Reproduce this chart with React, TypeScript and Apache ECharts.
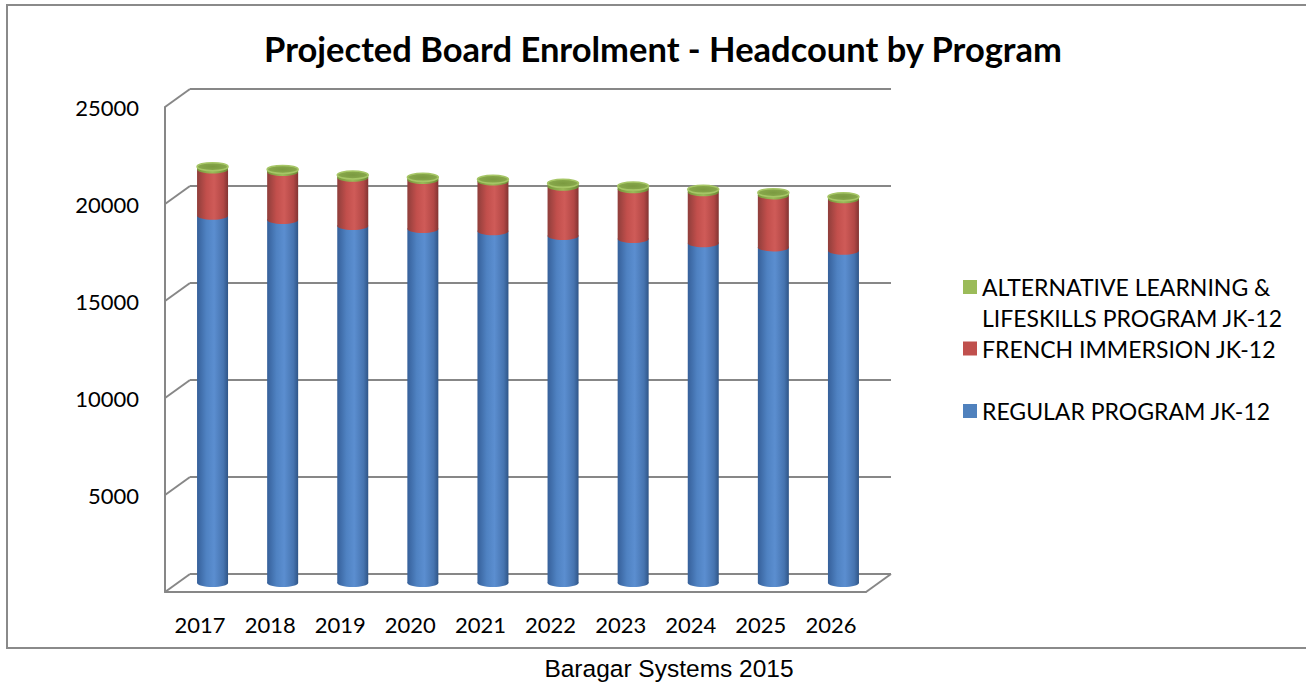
import React, { useEffect, useRef } from "react";
import * as echarts from "echarts";

const categories = ["2017", "2018", "2019", "2020", "2021", "2022", "2023", "2024", "2025", "2026"];
const regularProgram = [18930, 18710, 18400, 18250, 18130, 17890, 17730, 17510, 17300, 17130];
const frenchImmersion = [2380, 2480, 2490, 2520, 2560, 2540, 2560, 2630, 2680, 2650];
const alternativeLearning = [150, 130, 140, 140, 120, 170, 170, 150, 140, 130];
const yTicks = [0, 5000, 10000, 15000, 20000, 25000];

const NAME_ALT = "ALTERNATIVE LEARNING & LIFESKILLS PROGRAM JK-12";
const NAME_FR = "FRENCH IMMERSION JK-12";
const NAME_REG = "REGULAR PROGRAM JK-12";

// layout
const BACK = { left: 190, top: 89, width: 701, height: 485 };
const FRONT = { left: 165, top: 107, width: 701, height: 485 };
const MID = { left: 177.5, top: 98, width: 701, height: 485 };
const DX = FRONT.left - BACK.left;
const DY = FRONT.top - BACK.top;
const BAR_W = 31;
const RY = 4;
const GRID_COLOR = "#878787";
const FONT = "Lato, 'Open Sans', sans-serif";

function stackRows(values: number[], below: number[][]) {
  return values.map((v, i) => {
    const base = below.reduce((s, arr) => s + arr[i], 0);
    return [i, base, base + v];
  });
}

function cylinder(side: any[], top: any | null) {
  return (params: any, api: any) => {
    const i = api.value(0);
    const base = api.value(1);
    const topV = api.value(2);
    const pTop = api.coord([i, topV]);
    const pBase = api.coord([i, base]);
    const cx = pTop[0];
    const rx = BAR_W / 2;
    const grad = new echarts.graphic.LinearGradient(0, 0, 1, 0, side);
    const children: any[] = [
      { type: "ellipse", shape: { cx, cy: pBase[1], rx, ry: RY }, style: { fill: grad } },
      {
        type: "rect",
        shape: { x: cx - rx, y: pTop[1], width: BAR_W, height: pBase[1] - pTop[1] },
        style: { fill: grad },
      },
    ];
    if (top) {
      children.push({
        type: "ellipse",
        shape: { cx, cy: pTop[1], rx, ry: RY },
        style: { fill: top.fill, stroke: top.stroke, lineWidth: 1.5 },
      });
    }
    return { type: "group", children };
  };
}

export default function App() {
  const ref = useRef<HTMLDivElement>(null);
  useEffect(() => {
    document.body.style.margin = "0";
    const chart = echarts.init(ref.current!, null, { renderer: "svg" });

    const blueSide = [
      { offset: 0, color: "#36609a" },
      { offset: 0.3, color: "#4f82c2" },
      { offset: 0.55, color: "#5b8ed0" },
      { offset: 0.85, color: "#4674b0" },
      { offset: 1, color: "#2f5587" },
    ];
    const redSide = [
      { offset: 0, color: "#8f3e3b" },
      { offset: 0.3, color: "#c24f4c" },
      { offset: 0.55, color: "#cf5b58" },
      { offset: 0.85, color: "#b24745" },
      { offset: 1, color: "#823432" },
    ];
    const greenSide = [
      { offset: 0, color: "#779639" },
      { offset: 0.5, color: "#9bbb59" },
      { offset: 1, color: "#6c8a34" },
    ];

    const axisCommon = { min: 0, max: 25000, interval: 5000 };
    const legendText = { fontFamily: FONT, fontSize: 23, color: "#000", lineHeight: 31 };

    const option: any = {
      animation: false,
      backgroundColor: "#ffffff",
      title: {
        text: "Projected Board Enrolment - Headcount by Program",
        left: 658,
        textAlign: "center",
        top: 26,
        textStyle: { fontFamily: FONT, fontSize: 34.5, fontWeight: "bold", color: "#000" },
      },
      legend: [
        {
          data: [NAME_ALT],
          orient: "vertical",
          left: 963,
          top: 240.5,
          padding: 0,
          icon: "rect",
          itemWidth: 14,
          itemHeight: 14,
          itemGap: 0,
          formatter: () => "\u00a0\nALTERNATIVE LEARNING &\nLIFESKILLS PROGRAM JK-12",
          textStyle: legendText,
        },
        {
          data: [NAME_FR],
          orient: "vertical",
          left: 963,
          top: 333,
          padding: 0,
          icon: "rect",
          itemWidth: 14,
          itemHeight: 14,
          textStyle: legendText,
        },
        {
          data: [NAME_REG],
          orient: "vertical",
          left: 963,
          top: 395.5,
          padding: 0,
          icon: "rect",
          itemWidth: 14,
          itemHeight: 14,
          textStyle: legendText,
        },
      ],
      grid: [
        { ...BACK, containLabel: false },
        { ...FRONT, containLabel: false },
        { ...MID, containLabel: false },
      ],
      xAxis: [
        { type: "category", gridIndex: 0, data: categories, show: false },
        {
          type: "category",
          gridIndex: 1,
          data: categories,
          axisLine: { show: true, lineStyle: { color: GRID_COLOR, width: 2 } },
          axisTick: { show: false },
          axisLabel: { fontFamily: FONT, fontSize: 22, color: "#000", margin: 21 },
        },
        { type: "category", gridIndex: 2, data: categories, show: false },
      ],
      yAxis: [
        {
          type: "value",
          gridIndex: 0,
          ...axisCommon,
          axisLine: { show: false },
          axisTick: { show: false },
          axisLabel: { show: false },
          splitLine: { show: true, lineStyle: { color: GRID_COLOR, width: 2 } },
        },
        {
          type: "value",
          gridIndex: 1,
          ...axisCommon,
          axisLine: { show: true, lineStyle: { color: GRID_COLOR, width: 2 } },
          axisTick: { show: false },
          splitLine: { show: false },
          axisLabel: {
            fontFamily: FONT,
            fontSize: 22,
            color: "#000",
            margin: 26,
            formatter: (v: number) => (v === 0 ? "" : String(v)),
          },
        },
        { type: "value", gridIndex: 2, ...axisCommon, show: false, splitLine: { show: false } },
      ],
      series: [
        {
          type: "custom",
          name: "walls",
          xAxisIndex: 0,
          yAxisIndex: 0,
          silent: true,
          data: yTicks.map((v) => [0, v]),
          encode: { x: 0, y: 1 },
          renderItem: (params: any, api: any) => {
            const v = api.value(1);
            const y = api.coord([0, v])[1];
            const cs = params.coordSys;
            const children: any[] = [
              {
                type: "line",
                shape: { x1: cs.x + DX, y1: y + DY, x2: cs.x, y2: y },
                style: { stroke: GRID_COLOR, lineWidth: 2 },
              },
            ];
            if (v === 0) {
              children.push({
                type: "line",
                shape: { x1: cs.x + cs.width + DX, y1: y + DY, x2: cs.x + cs.width, y2: y },
                style: { stroke: GRID_COLOR, lineWidth: 2 },
              });
            }
            return { type: "group", children };
          },
        },
        {
          type: "custom",
          name: NAME_REG,
          xAxisIndex: 2,
          yAxisIndex: 2,
          itemStyle: { color: "#4F81BD" },
          data: stackRows(regularProgram, []),
          encode: { x: 0, y: [1, 2] },
          renderItem: cylinder(blueSide, null),
        },
        {
          type: "custom",
          name: NAME_FR,
          xAxisIndex: 2,
          yAxisIndex: 2,
          itemStyle: { color: "#C0504D" },
          data: stackRows(frenchImmersion, [regularProgram]),
          encode: { x: 0, y: [1, 2] },
          renderItem: cylinder(redSide, null),
        },
        {
          type: "custom",
          name: NAME_ALT,
          xAxisIndex: 2,
          yAxisIndex: 2,
          itemStyle: { color: "#9BBB59" },
          data: stackRows(alternativeLearning, [regularProgram, frenchImmersion]),
          encode: { x: 0, y: [1, 2] },
          renderItem: cylinder(greenSide, {
            fill: new echarts.graphic.RadialGradient(0.5, 0.5, 0.6, [
              { offset: 0, color: "#7b9a40" },
              { offset: 0.7, color: "#86a64a" },
              { offset: 1, color: "#a9c96a" },
            ]),
            stroke: "#a6c666",
          }),
        },
      ],
      graphic: [
        {
          type: "rect",
          silent: true,
          shape: { x: 7, y: 5, width: 1320, height: 643 },
          style: { fill: "none", stroke: "#8a8a8a", lineWidth: 2 },
          z: -1,
        },
        {
          type: "text",
          x: 669,
          y: 668,
          style: {
            text: "Baragar Systems 2015",
            fontFamily: "'Liberation Sans', Arial, sans-serif",
            fontSize: 24.5,
            fill: "#000",
            align: "center",
            verticalAlign: "middle",
          },
        },
      ],
    };
    chart.setOption(option);
    return () => chart.dispose();
  }, []);
  return <div ref={ref} style={{ position: "fixed", left: 0, top: 0, width: 1306, height: 683 }} />;
}
